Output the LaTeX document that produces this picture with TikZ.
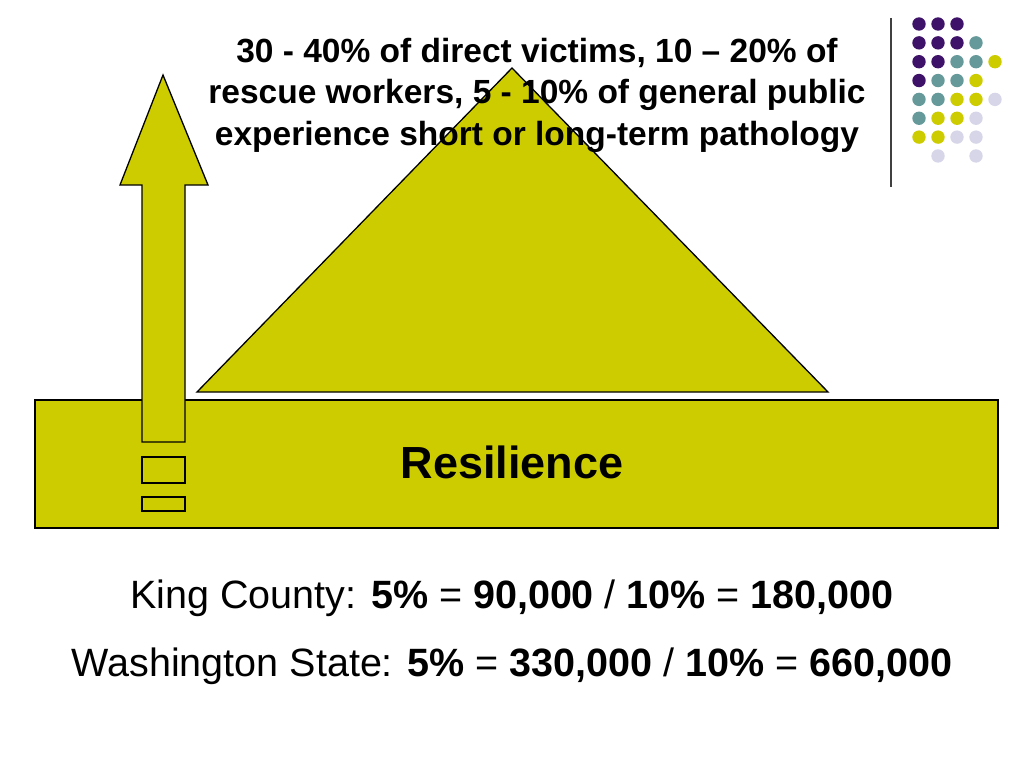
\documentclass[tikz,border=0pt]{standalone}
\usepackage{fontspec}
\setmainfont{Liberation Sans}
\usetikzlibrary{positioning}
\definecolor{sprout}{HTML}{CCCC00}
\definecolor{grape}{HTML}{3E1268}
\definecolor{sea}{HTML}{669A9A}
\definecolor{lilac}{HTML}{D6D6E8}
\definecolor{rule}{HTML}{404040}

\begin{document}
\begin{tikzpicture}[x=1pt, y=-1pt, line width=1.3pt]
  \useasboundingbox (0,0) rectangle (1024,768);
  % the base
  \draw[fill=sprout] (35,400) rectangle (998,528);
  \node[font=\fontsize{45}{50}\selectfont\bfseries] (res) at (512,462) {Resilience};
  % the pyramid
  \draw[fill=sprout] (197,392) -- (512,68) -- (828,392) -- cycle;
  % the rising arrow and its stubs
  \draw[fill=sprout] (142,442) -- (142,185) -- (120,185) -- (163,75) -- (208,185)
    -- (185,185) -- (185,442) -- cycle;
  \draw[fill=sprout] (142,457) rectangle (185,483);
  \draw[fill=sprout] (142,497) rectangle (185,511);
  % what lies on top
  \node[font=\fontsize{33.5}{41.5}\selectfont\bfseries, align=center] (top) at (537,95)
    {30 - 40\% of direct victims, 10 -- 20\% of\\
     rescue workers, 5 - 10\% of general public\\
     experience short or long-term pathology};
  % corner ornament
  \draw[rule, line width=1.4pt] (891,18) -- (891,187);
  \foreach \r/\row in {0/{grape,grape,grape,white,white},
                       1/{grape,grape,grape,sea,white},
                       2/{grape,grape,sea,sea,sprout},
                       3/{grape,sea,sea,sprout,white},
                       4/{sea,sea,sprout,sprout,lilac},
                       5/{sea,sprout,sprout,lilac,white},
                       6/{sprout,sprout,lilac,lilac,white},
                       7/{white,lilac,white,lilac,white}}
    \foreach \c [count=\i from 0] in \row
      \fill[\c] (919+19*\i, 24+18.85*\r) circle (6.7);
  % the numbers
  \node[font=\fontsize{39.5}{46}\selectfont] (king) at (512,598)
    {King County: \textbf{5\%} = \textbf{90,000} / \textbf{10\%} = \textbf{180,000}};
  \node[font=\fontsize{39.5}{46}\selectfont] (wash) at (512,666)
    {Washington State: \textbf{5\%} = \textbf{330,000} / \textbf{10\%} = \textbf{660,000}};
\end{tikzpicture}
\end{document}
